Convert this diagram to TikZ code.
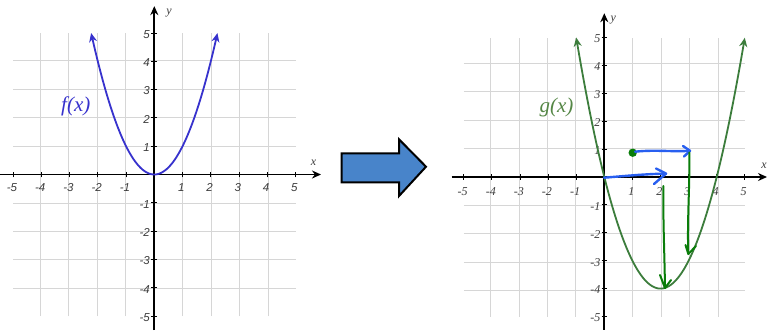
\documentclass[tikz,border=0pt]{standalone}
\usepackage{fontspec}
\setmainfont{Liberation Serif}
\setsansfont{Liberation Sans}
\usetikzlibrary{arrows.meta}
\definecolor{gridc}{RGB}{214,214,214}
\definecolor{fblue}{RGB}{55,50,205}
\definecolor{ggreen}{RGB}{60,125,60}
\definecolor{glab}{RGB}{85,135,70}
\definecolor{hblue}{RGB}{40,95,240}
\definecolor{hgreen}{RGB}{10,125,10}
\definecolor{bigarrow}{RGB}{72,132,202}
\definecolor{ticklab}{RGB}{60,60,60}
\tikzset{
  gridlines/.style={gridc, line width=0.9pt},
  axisline/.style={black, line width=1.8pt, -{Stealth[length=9pt,width=8pt]}},
  tickmark/.style={black, line width=1pt},
  ltick/.style={ticklab, font=\sffamily\itshape\fontsize{11.5}{12}\selectfont, inner sep=0pt},
  rtick/.style={ticklab, font=\rmfamily\itshape\fontsize{12}{12}\selectfont, inner sep=0pt},
  axlab/.style={ticklab, font=\rmfamily\itshape\fontsize{12}{12}\selectfont, inner sep=0pt},
  handblue/.style={hblue, line width=2.4pt, line cap=round, line join=round},
  handgreen/.style={hgreen, line width=2pt, line cap=round, line join=round},
}
\begin{document}
\begin{tikzpicture}[x=1pt,y=-1pt]
\useasboundingbox (0,0) rectangle (767,330);
\fill[white] (0,0) rectangle (767,330);

% ---------- left graph ----------
\begin{scope}[xshift=154.3pt, yshift=-174.5pt, x=28.25pt, y=28.3pt]
  \draw[gridlines] (-5,-5) grid (5,5);
  \draw[axisline] (-5.46,0) -- (5.9,0);
  \draw[axisline] (0,-5.5) -- (0,5.95);
  \foreach \i in {-5,-4,-3,-2,-1,1,2,3,4,5} {
    \draw[tickmark] (\i,-0.1) -- (\i,0.1);
    \draw[tickmark] (-0.1,\i) -- (0.1,\i);
    \node[ltick] (lx\i) at (\i-0.04,-0.47) {\i};
    \node[ltick, anchor=east] (ly\i) at (-0.15,\i-0.05) {\i};
  }
  \node[axlab] (lylab) at (0.52,5.72) {y};
  \node[axlab] (lxlab) at (5.64,0.4) {x};
  \draw[fblue, line width=1.8pt, {Stealth[length=9pt,width=8pt]}-{Stealth[length=9pt,width=8pt]},
        domain=-2.236:2.236, samples=80, smooth] plot (\x,{\x*\x});
  \node[fblue, font=\itshape\fontsize{21}{21}\selectfont] (flab) at (-2.78,2.4) {f(x)};
\end{scope}

% ---------- big arrow ----------
\draw[black, line width=2pt, line join=miter, fill=bigarrow]
  (341.7,153.3) -- (399,153.3) -- (399,139.3) -- (426,166.7) -- (399,196) -- (399,182.3) -- (341.7,182.3) -- cycle;

% ---------- right graph ----------
\begin{scope}[xshift=604.3pt, yshift=-177pt, x=28.1pt, y=27.9pt]
  \draw[gridlines] (-5,-5) grid (5,5);
  \draw[axisline] (-5.43,0) -- (5.79,0);
  \draw[axisline] (0,-5.48) -- (0,5.87);
  \foreach \i in {-5,-4,-3,-2,-1,1,2,3,4,5} {
    \draw[tickmark] (\i,-0.1) -- (\i,0.1);
    \draw[tickmark] (-0.1,\i) -- (0.1,\i);
    \node[rtick] (rx\i) at (\i-0.04,-0.53) {\i};
    \node[rtick, anchor=east] (ry\i) at (-0.13,\i-0.05) {\i};
  }
  \node[axlab] (rylab) at (0.32,5.62) {y};
  \node[axlab] (rxlab) at (5.68,0.42) {x};
  \draw[ggreen, line width=1.8pt, {Stealth[length=9pt,width=8pt]}-{Stealth[length=9pt,width=8pt]},
        domain=-1:5, samples=100, smooth] plot (\x,{\x*\x-4*\x});
  \node[glab, font=\itshape\fontsize{21}{21}\selectfont] (glabel) at (-1.7,2.49) {g(x)};
\end{scope}

% ---------- hand-drawn marks ----------
\coordinate (b1s) at (604,177.7);
\coordinate (b1e) at (666,173.6);
\coordinate (gdot) at (632.7,152.7);
\coordinate (b2s) at (635,151.7);
\coordinate (b2e) at (690,150.8);
\coordinate (g1s) at (689.3,152.5);
\coordinate (g1e) at (688.3,254);
\coordinate (g2s) at (663.3,186);
\coordinate (g2e) at (665,288);

\draw[handblue] (b1s) .. controls (625,176) and (645,174) .. (b1e);
\draw[handblue] (656,168.5) -- (b1e) -- (654,184);
\fill[hgreen] (gdot) circle (4.2pt);
\draw[handblue] (b2s) .. controls (655,149.5) and (672,152) .. (b2e);
\draw[handblue] (683,146) -- (b2e) -- (684,156.5);
\draw[handgreen] (g1s) .. controls (690,185) and (687,220) .. (g1e);
\draw[handgreen] (685.5,245) -- (g1e) -- (696,246);
\draw[handgreen] (g2s) .. controls (663,220) and (664.5,255) .. (g2e);
\draw[handgreen] (660,275) -- (g2e) -- (671,280);
\end{tikzpicture}
\end{document}
